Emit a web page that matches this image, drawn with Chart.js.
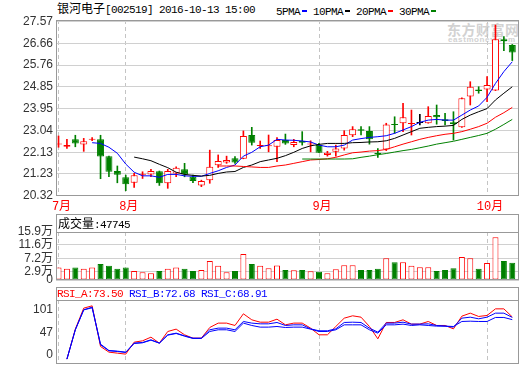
<!DOCTYPE html>
<html>
<head>
<meta charset="utf-8">
<script src="https://cdn.jsdelivr.net/npm/chart.js@4.4.0/dist/chart.umd.min.js"></script>
<style>
  html, body { margin: 0; padding: 0; background: #fff; width: 520px; height: 365px; overflow: hidden; }
  .abs { position: absolute; white-space: nowrap; }
  canvas { position: absolute; left: 0; z-index: 2; }
  .mono { font-family: 'Liberation Mono', 'DejaVu Sans Mono', monospace; font-size: 11px; letter-spacing: -0.6px; }
  .cjk { font-family: 'Noto Sans CJK SC', sans-serif; font-size: 12px; }
  .box { border: 1px solid #999; box-sizing: border-box; z-index: 1; }
  .sw { display: inline-block; width: 5px; height: 2px; margin: 0 6px 0 2px; vertical-align: middle; }
</style>
</head>
<body>
<!-- watermark sits under the price canvas -->
<div class="abs" style="left:447px;top:19px;z-index:0;color:#d2d2d2;font:bold 14px 'Noto Sans CJK SC',sans-serif;letter-spacing:0.5px">东方财富网</div>
<div class="abs" style="left:448px;top:35px;z-index:0;color:#d2d2d2;font:bold 8px 'Liberation Sans',sans-serif;letter-spacing:0.6px">eastmoney.com</div>

<div class="abs" style="left:57px;top:0;line-height:15px;color:#000">
  <span class="cjk">银河电子</span><span class="mono">[002519] 2016-10-13 15:00</span>
</div>
<div class="abs" style="left:276px;top:2px;line-height:15px;color:#000">
  <span class="mono">5PMA</span><i class="sw" style="background:#0000ff"></i><span class="mono">10PMA</span><i class="sw" style="background:#000"></i><span class="mono">20PMA</span><i class="sw" style="background:#ff0000"></i><span class="mono">30PMA</span><i class="sw" style="background:#008000"></i>
</div>

<div class="abs box" style="left:56px;top:214px;width:463px;height:19px"></div>
<div class="abs" style="left:58px;top:215px;line-height:16px;color:#000;z-index:3">
  <span class="cjk">成交量</span><span class="mono">:47745</span>
</div>

<div class="abs box" style="left:56px;top:287px;width:463px;height:14px"></div>
<div class="abs mono" style="left:57px;top:287px;line-height:14px;z-index:3">
  <span style="color:#ff0000">RSI_A:73.50</span> <span style="color:#0000ff">RSI_B:72.68</span> <span style="color:#0000ff">RSI_C:68.91</span>
</div>

<canvas id="price" width="520" height="214" style="top:0"></canvas>
<canvas id="vol" width="520" height="80" style="top:214px"></canvas>
<canvas id="rsi" width="520" height="100" style="top:280px"></canvas>

<script>
'use strict';

// ── Daily bars, 2016-07-20 .. 2016-10-13 ──
const open  = [22.46,22.36,22.67,22.46,22.65,22.67,21.97,21.35,21.09,20.86,
               21.19,21.21,21.34,20.84,21.25,21.42,21.11,20.75,20.97,21.59,
               21.71,21.88,21.86,22.85,22.39,22.38,22.36,22.64,22.43,22.60,
               22.46,22.43,22.02,22.15,22.29,22.84,23.09,23.02,22.11,22.25,
               23.31,23.34,23.31,23.35,23.34,23.68,23.51,23.38,23.17,24.45,
               24.75,24.75,24.70,26.84,26.60];
const high  = [22.81,22.67,22.84,22.71,22.74,22.84,21.97,21.56,21.18,21.25,
               21.32,21.42,21.35,21.42,21.53,21.67,21.18,20.97,22.22,22.02,
               21.97,21.95,23.02,23.17,22.60,22.85,22.74,22.89,22.67,22.99,
               22.61,22.50,22.17,22.43,23.03,23.20,23.20,23.20,22.29,23.34,
               23.61,24.17,23.89,23.71,24.03,24.10,23.75,23.82,24.40,25.07,
               24.86,25.28,27.43,26.95,26.62];
const low   = [22.34,22.29,22.36,22.17,22.61,21.03,21.11,20.86,20.53,20.67,
               21.04,21.11,20.75,20.63,21.11,21.11,20.86,20.70,20.84,21.50,
               21.67,21.67,21.86,22.43,22.29,22.15,21.74,22.46,22.36,22.43,
               22.15,22.11,21.97,21.97,22.22,22.78,22.85,22.47,21.92,22.20,
               22.92,22.99,22.85,23.27,23.34,23.30,23.27,22.64,23.17,24.10,
               24.59,24.24,24.70,26.36,25.95];
const close = [22.47,22.43,22.50,22.59,22.68,21.95,21.32,21.20,20.80,21.17,
               21.21,21.35,20.84,21.35,21.49,21.21,20.93,20.93,21.53,21.77,
               21.81,21.70,22.81,22.53,22.41,22.42,22.64,22.50,22.56,22.53,
               22.50,22.11,22.11,22.29,22.85,23.09,23.03,22.67,22.06,23.29,
               23.27,23.59,23.35,23.35,23.64,23.59,23.43,23.31,24.38,24.86,
               24.68,24.93,26.84,26.77,26.29];

// moving averages as drawn
const ma5  = [null,null,null,null,22.53, 22.50,22.34,22.09,21.64,21.30,
              21.15,21.15,21.09,21.21,21.21, 21.15,21.13,21.13,21.25,21.36,
              21.50,21.60,21.97,22.13,22.36, 22.43,22.67,22.64,22.63,22.60,
              22.56,22.43,22.36,22.36,22.43, 22.64,22.70,22.75,22.78,22.82,
              22.92,23.06,23.20,23.38,23.47, 23.50,23.47,23.47,23.68,23.89,
              24.06,24.42,25.00,25.49,25.90];
const ma10 = [null,null,null,null,null, null,null,null,null,21.93,
              21.86,21.78,21.63,21.49,21.30, 21.21,21.17,21.14,21.17,21.25,
              21.31,21.33,21.50,21.60,21.74, 21.81,21.88,21.99,22.13,22.29,
              22.40,22.46,22.50,22.50,22.50, 22.53,22.54,22.56,22.57,22.61,
              22.71,22.85,22.99,23.13,23.17, 23.20,23.22,23.25,23.50,23.68,
              23.82,23.95,24.31,24.59,24.86];
const ma20 = [null,null,null,null,null, null,null,null,null,null,
              null,null,null,null,null, null,null,null,null,21.56,
              21.56,21.56,21.54,21.52,21.50, 21.50,21.56,21.60,21.67,21.74,
              21.81,21.83,21.86,21.92,22.02, 22.11,22.14,22.18,22.20,22.25,
              22.36,22.47,22.57,22.67,22.75, 22.82,22.88,22.92,22.99,23.09,
              23.20,23.34,23.59,23.78,24.00];
const ma30 = [null,null,null,null,null, null,null,null,null,null,
              null,null,null,null,null, null,null,null,null,null,
              null,null,null,null,null, null,null,null,null,21.85,
              21.85,21.85,21.85,21.85,21.85, 21.86,21.92,21.97,22.03,22.08,
              22.14,22.20,22.25,22.32,22.39, 22.47,22.53,22.59,22.67,22.75,
              22.83,22.92,23.09,23.29,23.50];

// volume, 万
const vol = [4.1,3.7,4.1,3.7,4.1,5.3,4.7,3.7,4.1,3.0,
             2.6,2.2,3.0,3.7,4.1,3.7,3.0,3.3,6.3,4.7,
             2.6,3.0,8.6,5.3,4.7,3.9,4.8,3.3,3.2,3.3,
             2.9,2.7,2.2,3.6,4.9,4.9,3.3,3.3,3.7,7.2,
             5.9,5.9,4.7,4.2,4.2,3.0,3.3,3.9,7.6,7.2,
             3.7,5.6,14.2,6.3,5.7];

const rsiA = [null,2.0,52.8,88.4,92.3,23.4,13.8,12.1,10.4,30.7,
              33.0,39.2,29.1,48.8,52.8,43.2,37.5,37.5,55.6,63.0,
              63.0,59.0,78.8,68.6,64.6,64.6,69.7,60.1,63.0,63.0,
              54.5,43.2,43.2,57.3,71.4,75.4,73.1,57.3,36.4,64.1,
              64.1,68.6,61.3,61.3,65.8,59.0,59.0,53.3,74.8,79.9,
              74.3,76.0,87.2,87.2,73.50];
const rsiB = [null,2.0,51.7,85.5,90.1,26.2,16.1,14.9,13.2,29.1,
              30.2,34.7,29.1,43.2,46.0,41.5,37.5,37.5,51.7,54.5,
              54.5,51.7,65.8,63.0,61.8,61.8,64.1,59.0,60.1,60.1,
              53.3,50.0,50.0,53.3,64.1,64.6,64.1,54.5,47.7,63.0,
              63.0,64.6,61.3,61.3,61.8,59.0,57.9,56.2,71.4,73.1,
              70.3,73.1,79.9,79.9,72.68];
const rsiC = [null,2.0,51.7,85.5,89.0,27.4,16.6,15.5,13.8,28.5,
              29.6,34.1,29.1,42.6,45.4,40.9,37.0,37.0,48.8,51.7,
              51.7,48.8,63.0,59.0,56.2,56.2,57.3,55.6,56.2,56.2,
              52.8,48.8,48.8,51.7,60.1,60.1,60.1,51.7,46.0,60.1,
              60.1,61.3,59.0,60.1,59.0,57.9,57.9,57.3,65.8,66.3,
              65.8,65.8,72.6,72.6,68.91];

// axis ticks
const monthIdx   = [0, 8, 31, 51];
const monthNames = ['7月', '8月', '9月', '10月'];
const priceTicks = [20.32, 21.23, 22.13, 23.04, 23.95, 24.85, 25.76, 26.66, 27.57];
const volTicks   = [0, 2.9, 7.2, 11.6, 15.9];
const rsiTicks   = [0, 47, 101];

// ── Styling ──
const RED = '#ff0000', GREEN = '#008000', BLUE = '#0000ff';
const X_MIN = -0.3, X_MAX = 54.8;
const TICK_FONT = { family: "'Liberation Sans', 'Noto Sans CJK SC', sans-serif", size: 12 };

Chart.defaults.font.family = TICK_FONT.family;
Chart.defaults.animation = false;

const up = close.map((c, i) => c > open[i]);
const flat = close.map((c, i) => c === open[i]);
const candleColor = close.map((c, i) => flat[i] ? '#000' : (up[i] ? RED : GREEN));
const volUp = close.map((c, i) => c >= open[i]);

const xy = arr => arr.map((v, i) => ({ x: i, y: v }));

// ── Plugins ──
const framePlugin = {
  id: 'frame',
  afterDraw(chart) {
    const { ctx, chartArea: a } = chart;
    const l = Math.round(a.left), t = Math.round(a.top);
    const r = Math.round(a.right), b = Math.round(a.bottom);
    ctx.save();
    ctx.strokeStyle = '#999';
    ctx.lineWidth = 1;
    ctx.strokeRect(l + 0.5, t + 0.5, r - l - 1, b - t - 1);
    ctx.restore();
  }
};

// RSI labels: the outer ones are kept inside the panel like the original
const rsiLabelPlugin = {
  id: 'rsiLabels',
  afterDraw(chart) {
    const { ctx, chartArea: a } = chart;
    const s = chart.scales.y;
    ctx.save();
    ctx.font = `${TICK_FONT.size}px ${TICK_FONT.family}`;
    ctx.fillStyle = '#333';
    ctx.textAlign = 'right';
    ctx.textBaseline = 'middle';
    rsiTicks.forEach(v => {
      const y = Math.min(Math.max(s.getPixelForValue(v), a.top + 10), a.bottom - 9);
      ctx.fillText(String(v), a.left - 3, y);
    });
    ctx.restore();
  }
};

function monthAxis(showLabels, height) {
  return {
    type: 'linear',
    min: X_MIN,
    max: X_MAX,
    offset: false,
    afterBuildTicks: s => { s.ticks = monthIdx.map(v => ({ value: v })); },
    afterFit: s => { s.height = height; },
    ticks: {
      display: showLabels,
      autoSkip: false,
      maxRotation: 0,
      color: RED,
      padding: 4,
      labelOffset: 3,
      font: { family: "'Liberation Mono', 'Noto Sans CJK SC', monospace", size: 12 },
      callback: v => monthNames[monthIdx.indexOf(v)],
    },
    grid: { color: '#c4c4c4', drawTicks: false, offset: false },
    border: { display: false, dash: [4, 3] },
  };
}

function valueAxis(min, max, ticks, fmt, gridColor) {
  return {
    min, max,
    afterBuildTicks: s => { s.ticks = ticks.map(v => ({ value: v })); },
    afterFit: s => { s.width = 56; },
    ticks: { color: '#333', font: TICK_FONT, padding: 3, autoSkip: false, callback: fmt, display: fmt !== null },
    grid: { color: gridColor, drawTicks: false },
    border: { display: false },
  };
}

const baseOpts = {
  responsive: false,
  animation: false,
  devicePixelRatio: 1,
  plugins: { legend: { display: false }, tooltip: { enabled: false } },
  events: [],
};

// ── Price panel ──
const wickDs = {
  type: 'bar',
  data: close.map((c, i) => ({ x: i, y: [low[i], high[i]] })),
  backgroundColor: candleColor,
  barThickness: 1,
  grouped: false,
  order: 5,
};
const bodyDs = {
  type: 'bar',
  data: close.map((c, i) => ({ x: i, y: [open[i], c] })),
  backgroundColor: close.map((c, i) => up[i] ? '#fff' : candleColor[i]),
  borderColor: candleColor,
  borderWidth: 1,
  borderSkipped: false,
  inflateAmount: 0,
  minBarLength: 1,
  barThickness: 7,
  grouped: false,
  order: 4,
};
const maLine = (data, color) => ({
  type: 'line',
  data: xy(data),
  borderColor: color,
  borderWidth: 1,
  pointRadius: 0,
  tension: 0,
  spanGaps: false,
  order: 1,
});

new Chart(document.getElementById('price'), {
  type: 'bar',
  data: {
    datasets: [
      wickDs, bodyDs,
      maLine(ma30, GREEN), maLine(ma20, RED), maLine(ma10, '#000'), maLine(ma5, BLUE),
    ],
  },
  options: {
    ...baseOpts,
    layout: { padding: { top: 20, right: 1, left: 0, bottom: 0 } },
    scales: {
      x: monthAxis(true, 18),
      y: valueAxis(20.31, 27.64, priceTicks, v => v.toFixed(2), '#d0d0d0'),
    },
  },
  plugins: [framePlugin],
});

// ── Volume panel ──
new Chart(document.getElementById('vol'), {
  type: 'bar',
  data: {
    datasets: [{
      data: xy(vol),
      backgroundColor: volUp.map(u => u ? '#fff' : GREEN),
      borderColor: volUp.map(u => u ? RED : GREEN),
      borderWidth: 1,
      borderSkipped: false,
      inflateAmount: 0,
      barThickness: 6,
    }],
  },
  options: {
    ...baseOpts,
    layout: { padding: { top: 18, right: 1, left: 0, bottom: 14 } },
    scales: {
      x: monthAxis(false, 0),
      y: valueAxis(0, 15.9, volTicks, v => v === 0 ? '0' : v + '万', '#d0d0d0'),
    },
  },
  plugins: [framePlugin],
});

// ── RSI panel ──
const rsiLine = (data, color) => ({
  data: xy(data),
  borderColor: color,
  borderWidth: 1,
  pointRadius: 0,
  tension: 0,
});

new Chart(document.getElementById('rsi'), {
  type: 'line',
  data: {
    datasets: [rsiLine(rsiC, BLUE), rsiLine(rsiB, BLUE), rsiLine(rsiA, RED)],
  },
  options: {
    ...baseOpts,
    layout: { padding: { top: 20, right: 1, left: 0, bottom: 16 } },
    scales: {
      x: monthAxis(false, 0),
      y: {
        ...valueAxis(-6.3, 102.2, rsiTicks, null, '#d0d0d0'),
        grid: { color: c => c.tick && c.tick.value === 47 ? '#c8c8c8' : 'rgba(0,0,0,0)', drawTicks: false },
      },
    },
  },
  plugins: [framePlugin, rsiLabelPlugin],
});
</script>
</body>
</html>
